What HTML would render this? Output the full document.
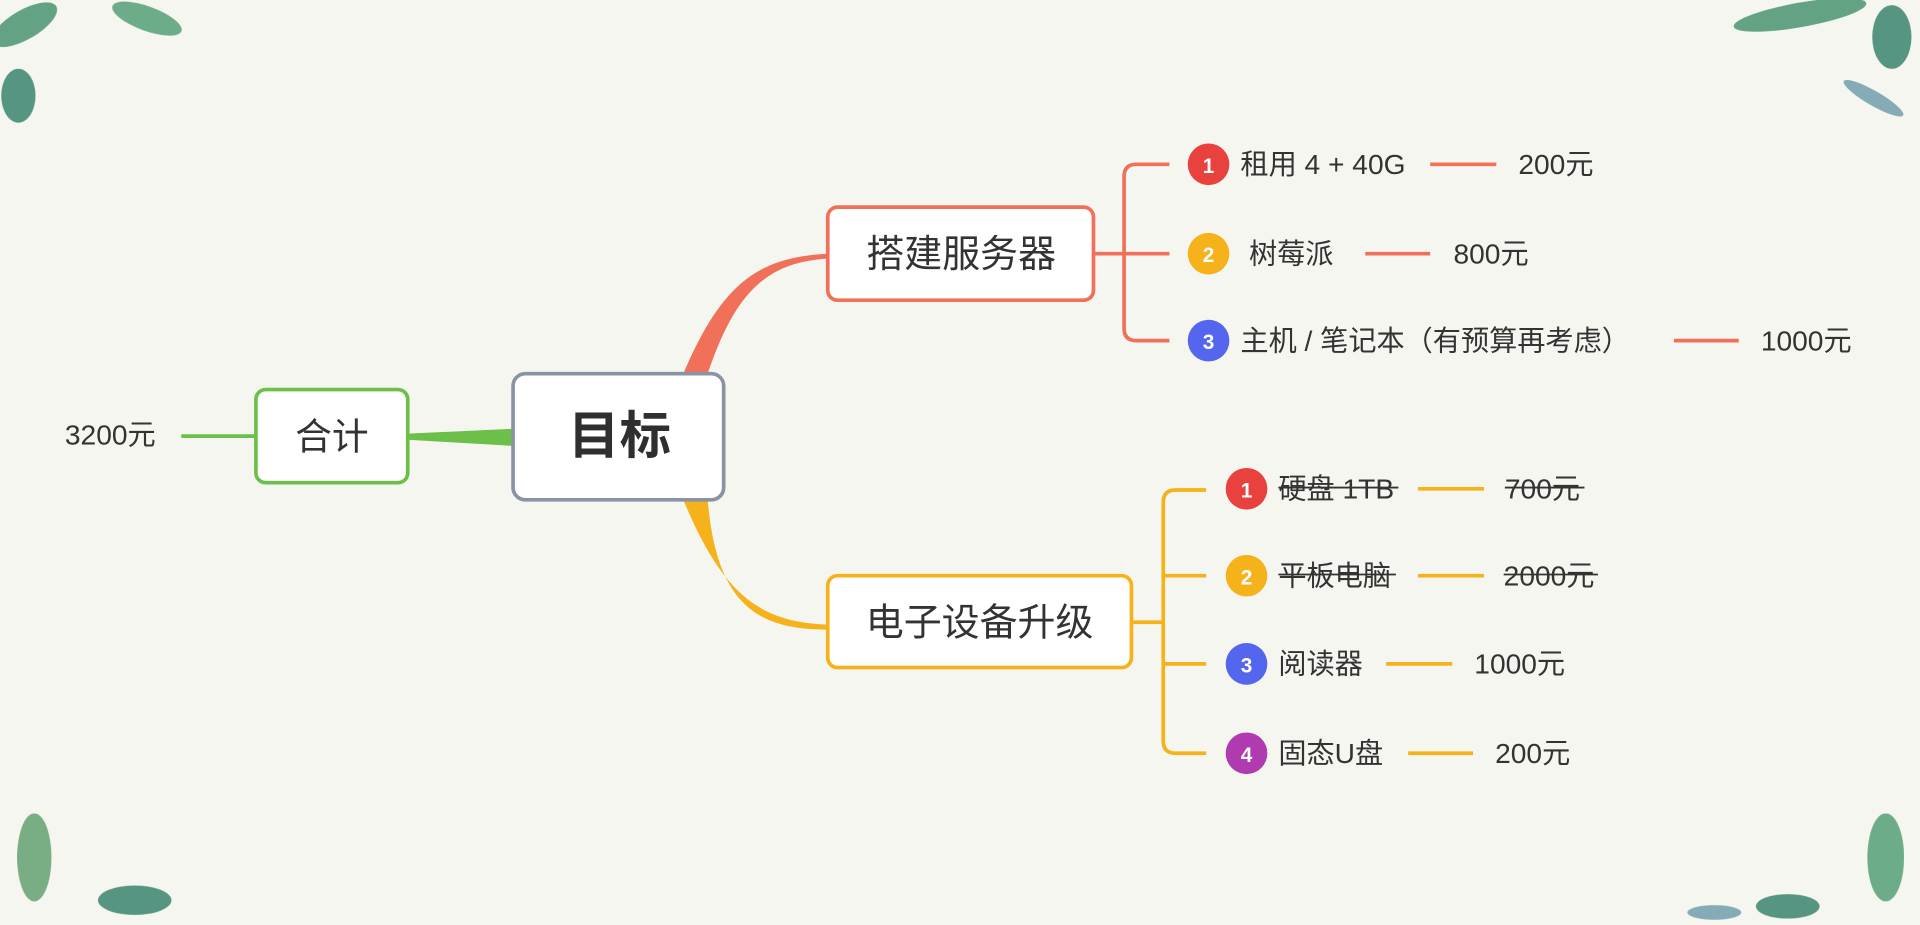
<!DOCTYPE html>
<html><head><meta charset="utf-8"><style>
html,body{margin:0;padding:0;background:#f6f6f0;overflow:hidden}
svg text{font-family:"Liberation Sans","Noto Sans CJK SC",sans-serif;fill:#333}
</style></head><body>
<svg width="1920" height="920" viewBox="0 0 1568 751" xmlns="http://www.w3.org/2000/svg">
<rect width="1568" height="751" fill="#f6f6f0"/>
<g opacity="0.8">
<ellipse cx="20" cy="20" rx="30" ry="12" fill="#3f8f6a" transform="rotate(-30 20 20)"/>
<ellipse cx="15" cy="78" rx="14" ry="22" fill="#2f7d66"/>
<ellipse cx="120" cy="15" rx="30" ry="10" fill="#4a9a70" transform="rotate(20 120 15)"/>
<ellipse cx="1470" cy="12" rx="55" ry="10" fill="#3f8f6a" transform="rotate(-10 1470 12)"/>
<ellipse cx="1545" cy="30" rx="16" ry="26" fill="#2f7d66"/>
<ellipse cx="1530" cy="80" rx="28" ry="6" fill="#6a9aa8" transform="rotate(30 1530 80)"/>
<ellipse cx="28" cy="700" rx="14" ry="36" fill="#5a9c6a"/>
<ellipse cx="110" cy="735" rx="30" ry="12" fill="#2f7d66"/>
<ellipse cx="1540" cy="700" rx="15" ry="36" fill="#4a9a70"/>
<ellipse cx="1460" cy="740" rx="26" ry="10" fill="#2f7d66"/>
<ellipse cx="1400" cy="745" rx="22" ry="6" fill="#6a9aa8"/>
</g>
<path d="M333 354 L419 350 L419 364 L333 359 Z" fill="#6cc04a"/>
<line x1="148" y1="356" x2="209" y2="356" stroke="#6cc04a" stroke-width="3"/>
<path d="M558 305 C590 230 620 210 676 207 L676 211 C625 214 600 240 578 305 Z" fill="#f0705a"/>
<path d="M558 408 C590 485 620 508 676 510 L676 514 C620 514 585 495 578 408 Z" fill="#f5b21a"/>
<g fill="none" stroke="#f0705a" stroke-width="3">
<path d="M893 207 H955"/>
<path d="M955 134 H928 Q918 134 918 144 V268 Q918 278 928 278 H955"/>
<line x1="1168" y1="134" x2="1222" y2="134"/>
<line x1="1115" y1="207" x2="1168" y2="207"/>
<line x1="1367" y1="278" x2="1420" y2="278"/>
</g>
<g fill="none" stroke="#f5b21a" stroke-width="3">
<path d="M924 508 H950"/>
<path d="M985 400 H960 Q950 400 950 410 V605 Q950 615 960 615 H985"/>
<path d="M950 470 H985 M950 542 H985"/>
<line x1="1158" y1="399" x2="1212" y2="399"/>
<line x1="1158" y1="470" x2="1212" y2="470"/>
<line x1="1132" y1="542" x2="1186" y2="542"/>
<line x1="1150" y1="615" x2="1203" y2="615"/>
</g>
<rect x="419" y="305" width="172" height="103" rx="10" fill="#fff" stroke="#8a93a6" stroke-width="3"/>
<text x="506" y="370" font-size="42" font-weight="bold" text-anchor="middle" style="fill:#2f2f2f">目标</text>
<rect x="209" y="318" width="124" height="76" rx="8" fill="#fff" stroke="#6cc04a" stroke-width="3"/>
<text x="271" y="367" font-size="30" text-anchor="middle">合计</text>
<text x="53" y="363" font-size="23">3200元</text>
<rect x="676" y="169" width="217" height="76" rx="8" fill="#fff" stroke="#f0705a" stroke-width="3"/>
<text x="785" y="218" font-size="31" text-anchor="middle">搭建服务器</text>
<rect x="676" y="470" width="248" height="75" rx="8" fill="#fff" stroke="#f5b21a" stroke-width="3"/>
<text x="800" y="519" font-size="31" text-anchor="middle">电子设备升级</text>
<g font-size="23">
<circle cx="987" cy="134" r="17" fill="#e8413e"/><text x="987" y="141" text-anchor="middle" style="fill:#fff" font-size="17" font-weight="bold">1</text>
<text x="1013" y="142">租用 4 + 40G</text><text x="1240" y="142">200元</text>
<circle cx="987" cy="207" r="17" fill="#f5b21a"/><text x="987" y="214" text-anchor="middle" style="fill:#fff" font-size="17" font-weight="bold">2</text>
<text x="1020" y="215">树莓派</text><text x="1187" y="215">800元</text>
<circle cx="987" cy="278" r="17" fill="#5566ee"/><text x="987" y="285" text-anchor="middle" style="fill:#fff" font-size="17" font-weight="bold">3</text>
<text x="1013" y="286">主机 / 笔记本（有预算再考虑）</text><text x="1438" y="286">1000元</text>

<circle cx="1018" cy="399" r="17" fill="#e8413e"/><text x="1018" y="406" text-anchor="middle" style="fill:#fff" font-size="17" font-weight="bold">1</text>
<text x="1044" y="407">硬盘 1TB</text><line x1="1044" y1="398" x2="1142" y2="398" stroke="#333" stroke-width="1.5"/>
<text x="1229" y="407">700元</text><line x1="1229" y1="398" x2="1294" y2="398" stroke="#333" stroke-width="1.5"/>
<circle cx="1018" cy="470" r="17" fill="#f5b21a"/><text x="1018" y="477" text-anchor="middle" style="fill:#fff" font-size="17" font-weight="bold">2</text>
<text x="1044" y="478">平板电脑</text><line x1="1044" y1="469" x2="1140" y2="469" stroke="#333" stroke-width="1.5"/>
<text x="1228" y="478">2000元</text><line x1="1228" y1="469" x2="1305" y2="469" stroke="#333" stroke-width="1.5"/>
<circle cx="1018" cy="542" r="17" fill="#5566ee"/><text x="1018" y="549" text-anchor="middle" style="fill:#fff" font-size="17" font-weight="bold">3</text>
<text x="1044" y="550">阅读器</text><text x="1204" y="550">1000元</text>
<circle cx="1018" cy="615" r="17" fill="#b03ab0"/><text x="1018" y="622" text-anchor="middle" style="fill:#fff" font-size="17" font-weight="bold">4</text>
<text x="1044" y="623">固态U盘</text><text x="1221" y="623">200元</text>
</g>
</svg>
</body></html>
